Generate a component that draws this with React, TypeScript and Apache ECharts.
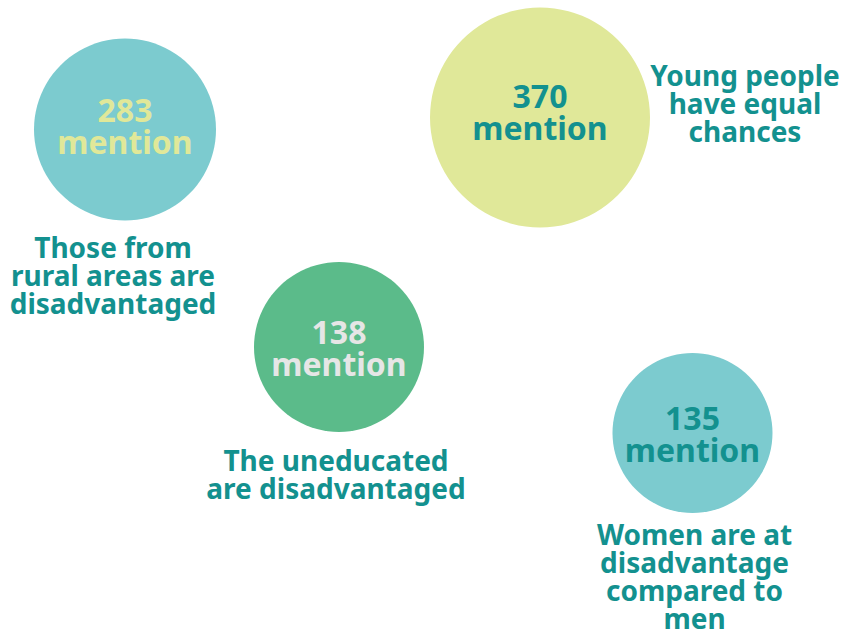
import React, { useEffect, useRef } from "react";
import * as echarts from "echarts";

const categories = [
  "Those from\nrural areas are\ndisadvantaged",
  "Young people\nhave equal\nchances",
  "The uneducated\nare disadvantaged",
  "Women are at\ndisadvantage\ncompared to\nmen",
];
const mentions = [283, 370, 138, 135];

// layout: bubble centres in pixels, diameters, label offsets
const centerX = [125, 540, 339, 692.5];
const centerY = [129.5, 117.5, 347, 433];
const diameters = [182, 220, 170, 160];
const labelOffsets: [number, number][] = [
  [-12, 103],
  [205, -15],
  [-3, 99],
  [2, 87],
];
const labelVAlign = ["top", "middle", "top", "top"];
const innerOffsetY = [-4, -6, 0, 0];
const bubbleColors = ["#7ccbcf", "#e0e899", "#5bbb8a", "#7ccbcf"];
const innerTextColors = ["#e0e899", "#13918f", "#e6e6e6", "#13918f"];
const teal = "#13918f";
const font = "'Noto Sans', 'Open Sans', sans-serif";

export default function App() {
  const ref = useRef<HTMLDivElement>(null);
  useEffect(() => {
    document.body.style.margin = "0";
    const chart = echarts.init(ref.current!, null, { renderer: "svg" });
    chart.setOption({
      animation: false,
      grid: { left: 0, right: 0, top: 0, bottom: 0 },
      xAxis: { type: "value", min: 0, max: 841, show: false },
      yAxis: { type: "value", min: 0, max: 630, inverse: true, show: false },
      series: [
        {
          type: "scatter",
          symbol: "circle",
          data: mentions.map((v, i) => ({
            value: [centerX[i], centerY[i], v],
            symbolSize: diameters[i],
            itemStyle: { color: bubbleColors[i], opacity: 1 },
            label: {
              show: true,
              position: "inside",
              offset: [0, innerOffsetY[i]],
              formatter: (p: any) => `${p.value[2]}\nmention`,
              color: innerTextColors[i],
              fontFamily: font,
              fontWeight: "bold",
              fontSize: 32,
              lineHeight: 32,
              align: "center",
            },
          })),
          emphasis: { disabled: true },
          silent: true,
          z: 2,
        },
        {
          type: "scatter",
          symbolSize: 0,
          data: categories.map((c, i) => ({
            value: [centerX[i], centerY[i]],
            name: c,
            label: {
              show: true,
              position: labelOffsets[i],
              align: "center",
              verticalAlign: labelVAlign[i],
              formatter: (p: any) => p.name,
              color: teal,
              opacity: 1,
              fontFamily: font,
              fontWeight: "bold",
              fontSize: 28,
              lineHeight: 28,
            },
          })),
          itemStyle: { color: "transparent", opacity: 1 },
          emphasis: { disabled: true },
          silent: true,
          z: 3,
        },
      ],
    });
    return () => chart.dispose();
  }, []);
  return <div ref={ref} style={{ width: 841, height: 630 }} />;
}
